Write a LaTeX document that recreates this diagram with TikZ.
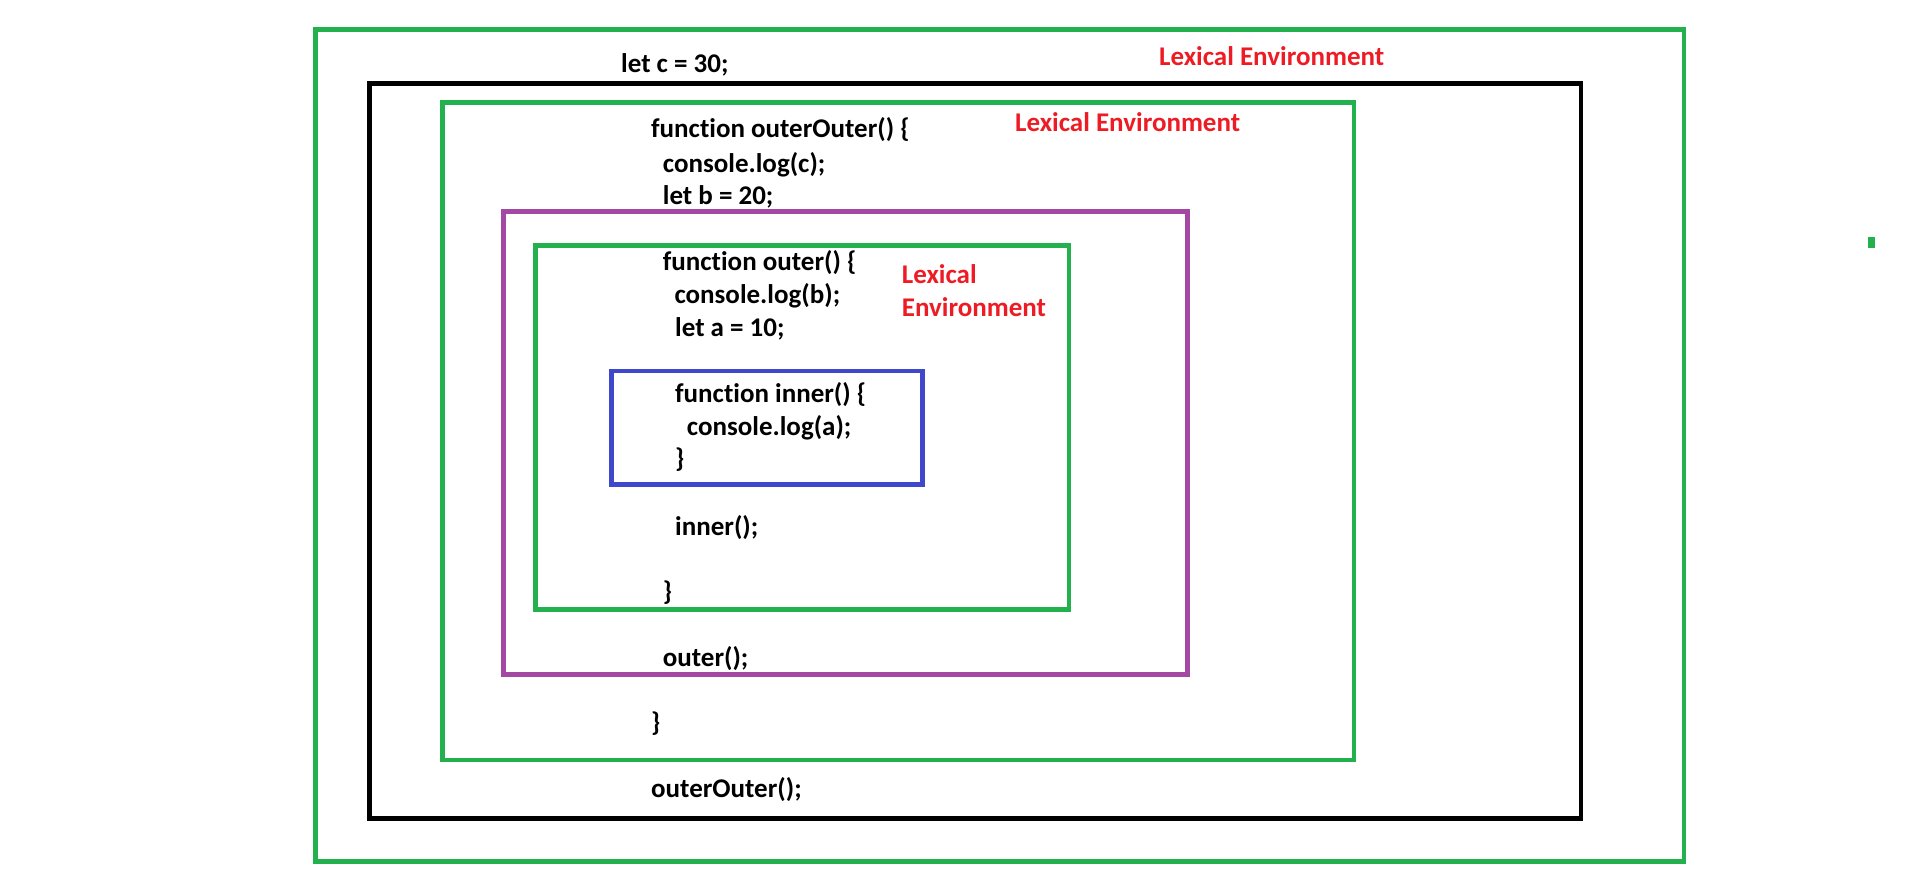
\documentclass[tikz,border=0pt]{standalone}
\usepackage{fontspec}
\setmainfont{Carlito}[Ligatures=NoCommon]
\usepackage{tikz}
\definecolor{paintgreen}{HTML}{22B14C}
\definecolor{paintpurple}{HTML}{A349A4}
\definecolor{paintblue}{HTML}{3F48CC}
\definecolor{paintred}{HTML}{ED1C24}
\tikzset{
    frame/.style={line width=4.7pt},
    code/.style={anchor=base west,inner sep=0pt,font=\fontsize{27}{33}\selectfont\bfseries},
    lex/.style={code,text=paintred}
}
\begin{document}
\begin{tikzpicture}[x=1pt,y=-1pt]
    \useasboundingbox (0,0) rectangle (1908,875);
    \draw[frame,paintgreen](315.3,29.3) rectangle (1684,861.3);
    \draw[frame,black](369.3,83.3) rectangle (1581,818.2);
    \draw[frame,paintgreen](442.3,102.3) rectangle (1354,760);
    \draw[frame,paintpurple](503.3,211.3) rectangle (1187.2,674.3);
    \draw[frame,paintgreen](535.3,245.3) rectangle (1069,609.2);
    \draw[frame,paintblue](611.7,371) rectangle (922.3,484.3);
    \fill[paintgreen](1868,237) rectangle (1875,248);
    \node[code] (letc) at (621,72.3){let c = 30;};
    \node[lex] (lexc) at (1159,65.7){Lexical Environment};
    \node[code] (fouterouter) at (651,137.7){function outerOuter() \{};
    \node[lex] (lexb) at (1015,131.7){Lexical Environment};
    \node[code] (logc) at (662.7,172.7){console.log(c);};
    \node[code] (letb) at (662.7,204.3){let b = 20;};
    \node[code] (fouter) at (662.7,270.7){function outer() \{};
    \node[lex] (lexa) at (901.7,283.3){Lexical};
    \node[lex] (lexa2) at (901.7,316){Environment};
    \node[code] (logb) at (674.3,303.3){console.log(b);};
    \node[code] (leta) at (675,336){let a = 10;};
    \node[code] (finner) at (675,402.7){function inner() \{};
    \node[code] (loga) at (686.7,435){console.log(a);};
    \node[code] (endinner) at (675,467.7){\}};
    \node[code] (callinner) at (675,535){inner();};
    \node[code] (endouter) at (662.7,600.4){\}};
    \node[code] (callouter) at (662.7,666.7){outer();};
    \node[code] (endouterouter) at (651,731){\}};
    \node[code] (callouterouter) at (651,797.7){outerOuter();};
\end{tikzpicture}
\end{document}
